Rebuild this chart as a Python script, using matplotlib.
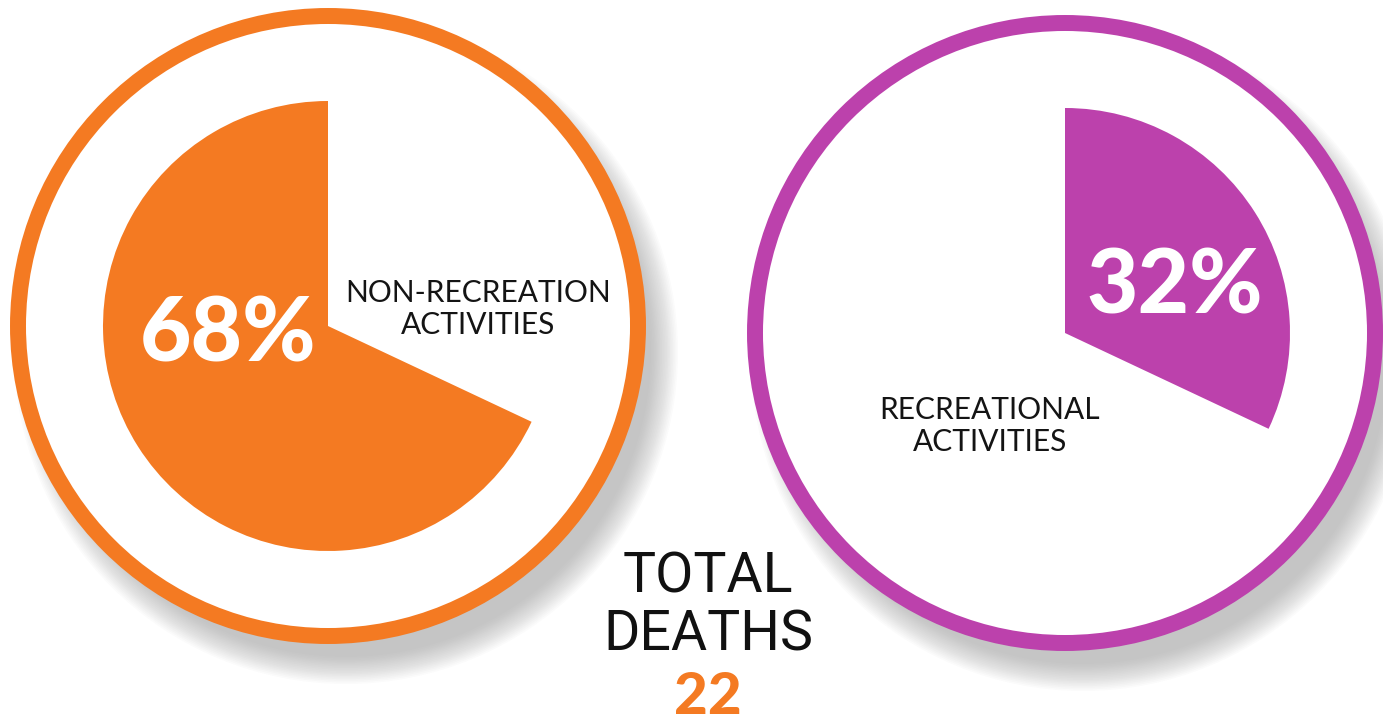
import matplotlib
matplotlib.use("Agg")
import matplotlib.pyplot as plt
from matplotlib.patches import Circle

# data
categories = ["NON-RECREATION\nACTIVITIES", "RECREATIONAL\nACTIVITIES"]
shares = [68, 32]
pct_labels = ["68%", "32%"]
total_deaths = 22

orange = "#F47A22"
magenta = "#BC41AC"

W, H = 1383, 725
fig = plt.figure(figsize=(W / 100, H / 100), dpi=100)
ax = fig.add_axes([0, 0, 1, 1])

# pixel coords of the two rings (y measured from the bottom)
centers = [(328, H - 326), (1065, H - 333)]
colors = [orange, magenta]
ring_r = 318
pie_r = 225


def shadow(cx, cy, r):
    # cheap blurred drop shadow: stack of faint circles offset down-right
    for k in range(18):
        ax.add_patch(Circle((cx + 18, cy - 26), r + 14 - k * 1.6,
                            facecolor="#9a9a9a", edgecolor="none",
                            alpha=0.04, zorder=1))


for (cx, cy), col in zip(centers, colors):
    shadow(cx, cy, ring_r)
    ax.add_patch(Circle((cx, cy), ring_r - 8, facecolor="white",
                        edgecolor=col, linewidth=11.5, zorder=2))

# left pie: share drawn counter-clockwise from 12 o'clock
w1, _ = ax.pie([shares[0], 100 - shares[0]], colors=[orange, "none"],
               startangle=90, counterclock=True, center=centers[0],
               radius=pie_r, frame=True)
# right pie: share drawn clockwise from 12 o'clock
w2, _ = ax.pie([shares[1], 100 - shares[1]], colors=[magenta, "none"],
               startangle=90, counterclock=False, center=centers[1],
               radius=pie_r, frame=True)
for w in w1 + w2:
    w.set_zorder(3)
    w.set_linewidth(0)

heavy = dict(family=["Lato", "DejaVu Sans"], fontweight="black", color="white",
             ha="center", va="center", zorder=5)
light = dict(family=["Lato", "DejaVu Sans"], fontweight="normal", color="#141414",
             ha="center", va="center", zorder=5, linespacing=1.2)

ax.text(228, H - 335, pct_labels[0], fontsize=64, **heavy)
ax.text(1175, H - 287, pct_labels[1], fontsize=64, **heavy)

ax.text(478, H - 309, categories[0], fontsize=21.5, **light)
ax.text(990, H - 426, categories[1], fontsize=21.5, **light)

ax.text(708, H - 606, "TOTAL\nDEATHS", fontsize=40,
        family=["Roboto", "DejaVu Sans"], fontweight="normal", color="#111111",
        ha="center", va="center", linespacing=1.12, zorder=5)
ax.text(708, H - 697, str(total_deaths), fontsize=42,
        family=["Lato", "DejaVu Sans"], fontweight="black", color=orange,
        ha="center", va="center", zorder=5)

ax.set_xlim(0, W)
ax.set_ylim(0, H)
ax.set_aspect("equal")
ax.axis("off")

fig.savefig("out.png", dpi=100, facecolor="white")
